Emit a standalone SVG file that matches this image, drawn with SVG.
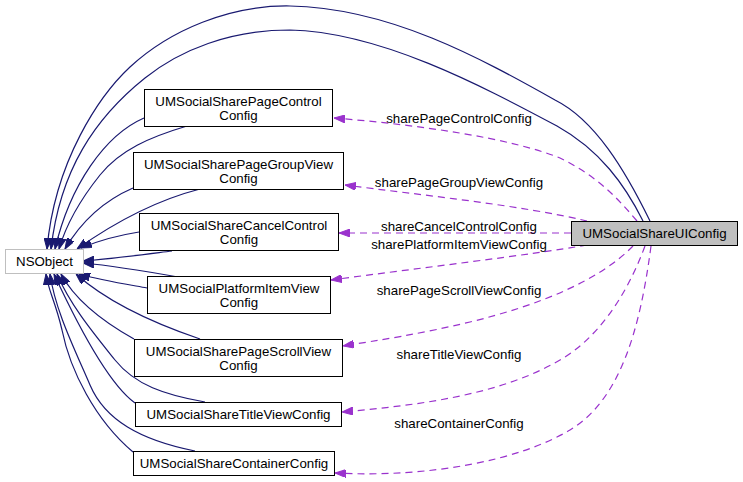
<svg xmlns="http://www.w3.org/2000/svg" width="743" height="482" viewBox="0 0 743 482">
<style>
.box{fill:#ffffff;stroke:#000000;stroke-width:1}
.t{font-family:"Liberation Sans",Arial,Helvetica,sans-serif;font-size:13.3px;fill:#000000;text-anchor:middle}
.inh{fill:none;stroke:#191970;stroke-width:1.2;marker-end:url(#ab)}
.use{fill:none;stroke:#9a32cd;stroke-width:1.2;stroke-dasharray:7,5;marker-end:url(#ap)}
</style>
<defs>
<marker id="ab" viewBox="0 0 11 8" refX="11" refY="4" markerWidth="11" markerHeight="8" orient="auto" markerUnits="userSpaceOnUse"><path d="M0,0 L11,4 L0,8 z" fill="#191970" stroke="#191970" stroke-dasharray="none"/></marker>
<marker id="ap" viewBox="0 0 11 8" refX="11" refY="4" markerWidth="11" markerHeight="8" orient="auto" markerUnits="userSpaceOnUse"><path d="M0,0 L11,4 L0,8 z" fill="#9a32cd" stroke="#9a32cd" stroke-dasharray="none"/></marker>
</defs>
<rect width="743" height="482" fill="#ffffff"/>
<g id="connectors">
<path class="inh" d="M650,221 C625,170 595,120 555,100 C480,58 390,8 290,6 C230,5 170,30 130,67 C100,95 55,160 47,249"/>
<path class="inh" d="M643,221 C625,185 600,150 557,126 C480,85 380,32 290,30 C230,30 180,50 145,78 C95,118 60,170 51,249"/>
<path class="inh" d="M144,118 C105,135 70,185 55,249"/>
<path class="inh" d="M187,126 C150,137 120,150 100,175 C80,200 66,225 59,249"/>
<path class="inh" d="M133,188 C110,198 85,215 65,249"/>
<path class="inh" d="M200,189 C165,198 125,215 77,249"/>
<path class="inh" d="M139,232 C120,235 100,240 81,248"/>
<path class="inh" d="M172,251 C140,255 110,259 83,261"/>
<path class="inh" d="M178,277 C150,272 115,266 83,263"/>
<path class="inh" d="M147,288 C125,284 100,280 79,274"/>
<path class="inh" d="M200,339 C150,322 105,300 76,274"/>
<path class="inh" d="M134,339 C100,320 75,300 61,274"/>
<path class="inh" d="M205,402 C165,395 135,385 115,360 C95,335 70,305 57,274"/>
<path class="inh" d="M135,403 C110,385 80,330 54,274"/>
<path class="inh" d="M195,451 C140,440 105,420 90,385 C75,350 55,310 50,274"/>
<path class="inh" d="M133,452 C95,420 70,370 62,330 C55,300 48,290 46,274"/>
<path class="use" d="M637,221 C615,195 595,175 560,158 C510,138 420,125 334,118"/>
<path class="use" d="M587,221 C520,205 420,195 345,185"/>
<path class="use" d="M571,233 L339,233"/>
<path class="use" d="M587,245 C530,255 420,268 331,280"/>
<path class="use" d="M633,246 C600,280 540,305 470,322 C420,334 380,340 343,346"/>
<path class="use" d="M645,246 C625,300 595,340 560,360 C500,395 420,405 342,412"/>
<path class="use" d="M651,246 C640,330 620,400 570,430 C520,460 430,478 335,473"/>
<text class="t" x="459" y="123">sharePageControlConfig</text>
<text class="t" x="459" y="187">sharePageGroupViewConfig</text>
<text class="t" x="459" y="231">shareCancelControlConfig</text>
<text class="t" x="459" y="249">sharePlatformItemViewConfig</text>
<text class="t" x="459" y="295">sharePageScrollViewConfig</text>
<text class="t" x="459" y="359">shareTitleViewConfig</text>
<text class="t" x="459" y="428">shareContainerConfig</text>
</g>
<g id="UMSocialShareUIConfig">
<rect x="571.5" y="221.5" width="166" height="24" fill="#bfbfbf" stroke="#000000"/>
<text class="t" x="654.5" y="238">UMSocialShareUIConfig</text>
</g>
<g id="NSObject">
<rect x="5.5" y="249.5" width="78" height="24" fill="#ffffff" stroke="#bfbfbf"/>
<text class="t" x="44.5" y="266">NSObject</text>
</g>
<g id="UMSocialSharePageControlConfig">
<rect class="box" x="144.5" y="89.5" width="188" height="37"/>
<text class="t" x="238.5" y="105.5">UMSocialSharePageControl</text>
<text class="t" x="238.5" y="119.5">Config</text>
</g>
<g id="UMSocialSharePageGroupViewConfig">
<rect class="box" x="133.5" y="152.5" width="210" height="37"/>
<text class="t" x="238.5" y="168.5">UMSocialSharePageGroupView</text>
<text class="t" x="238.5" y="182.5">Config</text>
</g>
<g id="UMSocialShareCancelControlConfig">
<rect class="box" x="139.5" y="213.5" width="199" height="37"/>
<text class="t" x="239" y="229.5">UMSocialShareCancelControl</text>
<text class="t" x="239" y="243.5">Config</text>
</g>
<g id="UMSocialPlatformItemViewConfig">
<rect class="box" x="147.5" y="276.5" width="183" height="37"/>
<text class="t" x="239" y="292.5">UMSocialPlatformItemView</text>
<text class="t" x="239" y="306.5">Config</text>
</g>
<g id="UMSocialSharePageScrollViewConfig">
<rect class="box" x="134.5" y="339.5" width="208" height="37"/>
<text class="t" x="238.5" y="355.5">UMSocialSharePageScrollView</text>
<text class="t" x="238.5" y="369.5">Config</text>
</g>
<g id="UMSocialShareTitleViewConfig">
<rect class="box" x="135.5" y="402.5" width="206" height="24"/>
<text class="t" x="238.5" y="419">UMSocialShareTitleViewConfig</text>
</g>
<g id="UMSocialShareContainerConfig">
<rect class="box" x="133.5" y="451.5" width="201" height="24"/>
<text class="t" x="234" y="468">UMSocialShareContainerConfig</text>
</g>
</svg>
